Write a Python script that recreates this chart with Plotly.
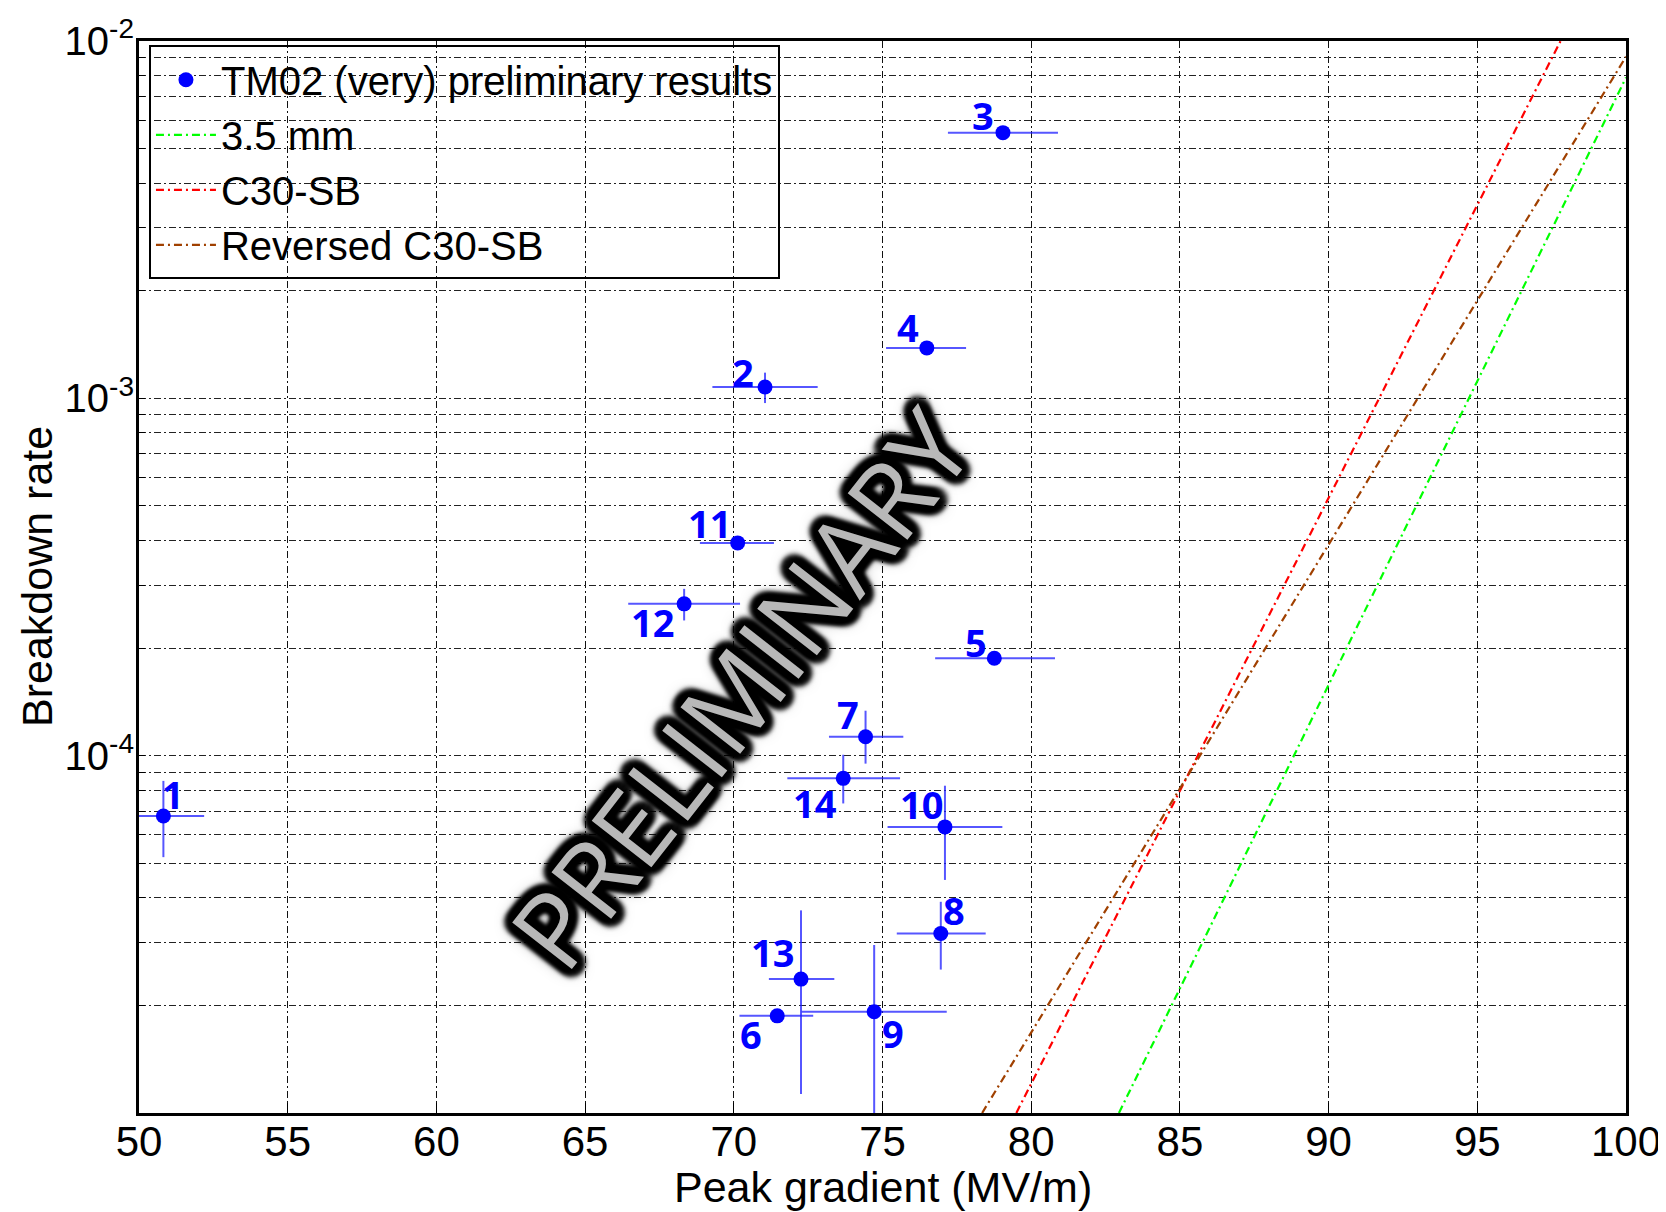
import numpy as np
import plotly.graph_objects as go

# ---------------- data ----------------
point_ids = ["1", "2", "3", "4", "5", "6", "7", "8", "9", "10", "11", "12", "13", "14"]
peak_gradient = [50.82, 71.05, 79.05, 76.49, 78.76, 71.46, 74.43, 76.96, 74.72, 77.10, 70.13, 68.33, 72.26, 73.68]
breakdown_rate = [6.78e-5, 1.076e-3, 5.54e-3, 1.384e-3, 1.874e-4, 1.87e-5, 1.13e-4, 3.18e-5,
                  1.92e-5, 6.32e-5, 3.94e-4, 2.66e-4, 2.37e-5, 8.64e-5]
gradient_low = [49.45, 69.28, 77.20, 75.12, 76.77, 70.19, 73.20, 75.48, 72.28, 75.17, 68.86, 66.45, 71.18, 71.80]
gradient_high = [52.19, 72.82, 80.90, 77.81, 80.80, 72.67, 75.70, 78.47, 77.16, 79.03, 71.35, 70.21, 73.38, 75.59]
rate_low = [5.2e-5, 0.97e-3, 5.54e-3, 1.384e-3, 1.874e-4, 1.87e-5, 9.5e-5, 2.52e-5,
            5.0e-6, 4.49e-5, 3.94e-4, 2.39e-4, 1.13e-5, 7.35e-5]
rate_high = [8.5e-5, 1.18e-3, 5.54e-3, 1.384e-3, 1.874e-4, 1.87e-5, 1.336e-4, 3.9e-5,
             2.95e-5, 8.24e-5, 3.94e-4, 2.93e-4, 3.69e-5, 1.006e-4]

curve_names = ["3.5 mm", "C30-SB", "Reversed C30-SB"]
curve_gradient = [[82.95, 100.0], [79.5, 97.8], [78.35, 100.0]]
curve_rate = [[1e-5, 7.9e-3], [1e-5, 1e-2], [1e-5, 9.04e-3]]

x_ticks = [50, 55, 60, 65, 70, 75, 80, 85, 90, 95, 100]
y_decades = [-5, -4, -3, -2]
y_decade_labels = ["", "10<sup>-4</sup>", "10<sup>-3</sup>", "10<sup>-2</sup>"]

# ---------------- styling ----------------
curve_colors = ["#00ff00", "#ff0000", "#a04000"]
label_offsets = [(10, 22), (-22, 15), (-20, 18), (-19, 21), (-18, 16), (-26, -18), (-18, 23),
                 (13, 23), (19, -21), (-23, 23), (-28, 20), (-32, -18), (-29, 27), (-28, -25)]
AXIS_FONT = "Liberation Sans, Arial, sans-serif"
GRID_DASH = "7px,3px,2px,3px"

# thick dark glow for the watermark
_glow = []
for ang in range(0, 360, 30):
    r = 9
    _glow.append(f"{r*np.cos(np.radians(ang)):.1f}px {r*np.sin(np.radians(ang)):.1f}px 5px #000")
_glow += ["0 0 10px #000", "0 0 18px #000"]
GLOW = ", ".join(_glow)

pg = np.array(peak_gradient)
br = np.array(breakdown_rate)

fig = go.Figure()

fig.add_trace(go.Scatter(
    x=pg, y=br, mode="markers", name="TM02 (very) preliminary results",
    marker=dict(color="#0000ff", size=15),
    error_x=dict(type="data", symmetric=False,
                 array=np.array(gradient_high) - pg, arrayminus=pg - np.array(gradient_low),
                 color="rgba(30,30,255,0.75)", thickness=2, width=0),
    error_y=dict(type="data", symmetric=False,
                 array=np.array(rate_high) - br, arrayminus=br - np.array(rate_low),
                 color="rgba(30,30,255,0.75)", thickness=2, width=0),
))

for name, gx, gy, col in zip(curve_names, curve_gradient, curve_rate, curve_colors):
    fig.add_trace(go.Scatter(x=gx, y=gy, mode="lines", name=name,
                             line=dict(color=col, width=2.2, dash="8px,4px,2px,4px")))

# y tick values: decades plus minor 2..9
y_tickvals, y_ticktext = [], []
for d, lab in zip(y_decades, y_decade_labels):
    y_tickvals.append(10.0 ** d)
    y_ticktext.append(lab)
    if d < -2:
        for m in range(2, 10):
            y_tickvals.append(m * 10.0 ** d)
            y_ticktext.append("")

annotations = []
for pid, x, y, (dx, dy) in zip(point_ids, peak_gradient, breakdown_rate, label_offsets):
    annotations.append(dict(x=x, y=np.log10(y), xref="x", yref="y", text=pid, showarrow=False,
                            xshift=dx, yshift=dy,
                            font=dict(family="Open Sans, sans-serif", size=38, color="#0000ff",
                                      weight="bold")))

annotations.append(dict(x=0.5, y=0, xref="paper", yref="paper", text="Peak gradient (MV/m)",
                        showarrow=False, yshift=-74, yanchor="middle",
                        font=dict(family=AXIS_FONT, size=43, color="black")))
annotations.append(dict(x=0, y=0.5, xref="paper", yref="paper", text="Breakdown rate",
                        showarrow=False, xshift=-102, textangle=-90, xanchor="center",
                        font=dict(family=AXIS_FONT, size=43, color="black")))
annotations.append(dict(x=0.404, y=0.396, xref="paper", yref="paper", text="PRELIMINARY",
                        showarrow=False, textangle=-52,
                        font=dict(family="Open Sans, sans-serif", size=106, color="#b8b8b8",
                                  shadow=GLOW)))

# the page body has an 8px default margin: the figure is sized/offset to compensate
fig.update_layout(
    width=1658, height=1204, autosize=False,
    margin=dict(l=131, r=40, t=33, b=99),
    paper_bgcolor="white", plot_bgcolor="white",
    font=dict(family=AXIS_FONT, color="black"),
    showlegend=True,
    legend=dict(x=0.0067, y=0.996, xanchor="left", yanchor="top",
                bgcolor="rgba(0,0,0,0)", bordercolor="black", borderwidth=2,
                font=dict(family=AXIS_FONT, size=40, color="black"),
                itemwidth=60, tracegroupgap=0),
    annotations=annotations,
)

fig.update_xaxes(range=[50, 100], tickmode="array", tickvals=x_ticks, automargin=False,
                 tickfont=dict(family=AXIS_FONT, size=42),
                 showgrid=True, gridcolor="#111111", gridwidth=1.2, griddash=GRID_DASH,
                 showline=True, linecolor="black", linewidth=3, mirror=True,
                 ticks="inside", ticklen=10, tickcolor="black", ticklabelstandoff=-10,
                 zeroline=False)
fig.update_yaxes(type="log", range=[-5, -2], tickmode="array", tickvals=y_tickvals, automargin=False,
                 ticktext=y_ticktext, tickfont=dict(family=AXIS_FONT, size=40),
                 showgrid=True, gridcolor="#222222", gridwidth=1.2, griddash=GRID_DASH,
                 showline=True, linecolor="black", linewidth=3, mirror=True,
                 ticks="inside", ticklen=6, tickcolor="black", ticklabelstandoff=-6,
                 zeroline=False)

fig.write_html("out.html")
